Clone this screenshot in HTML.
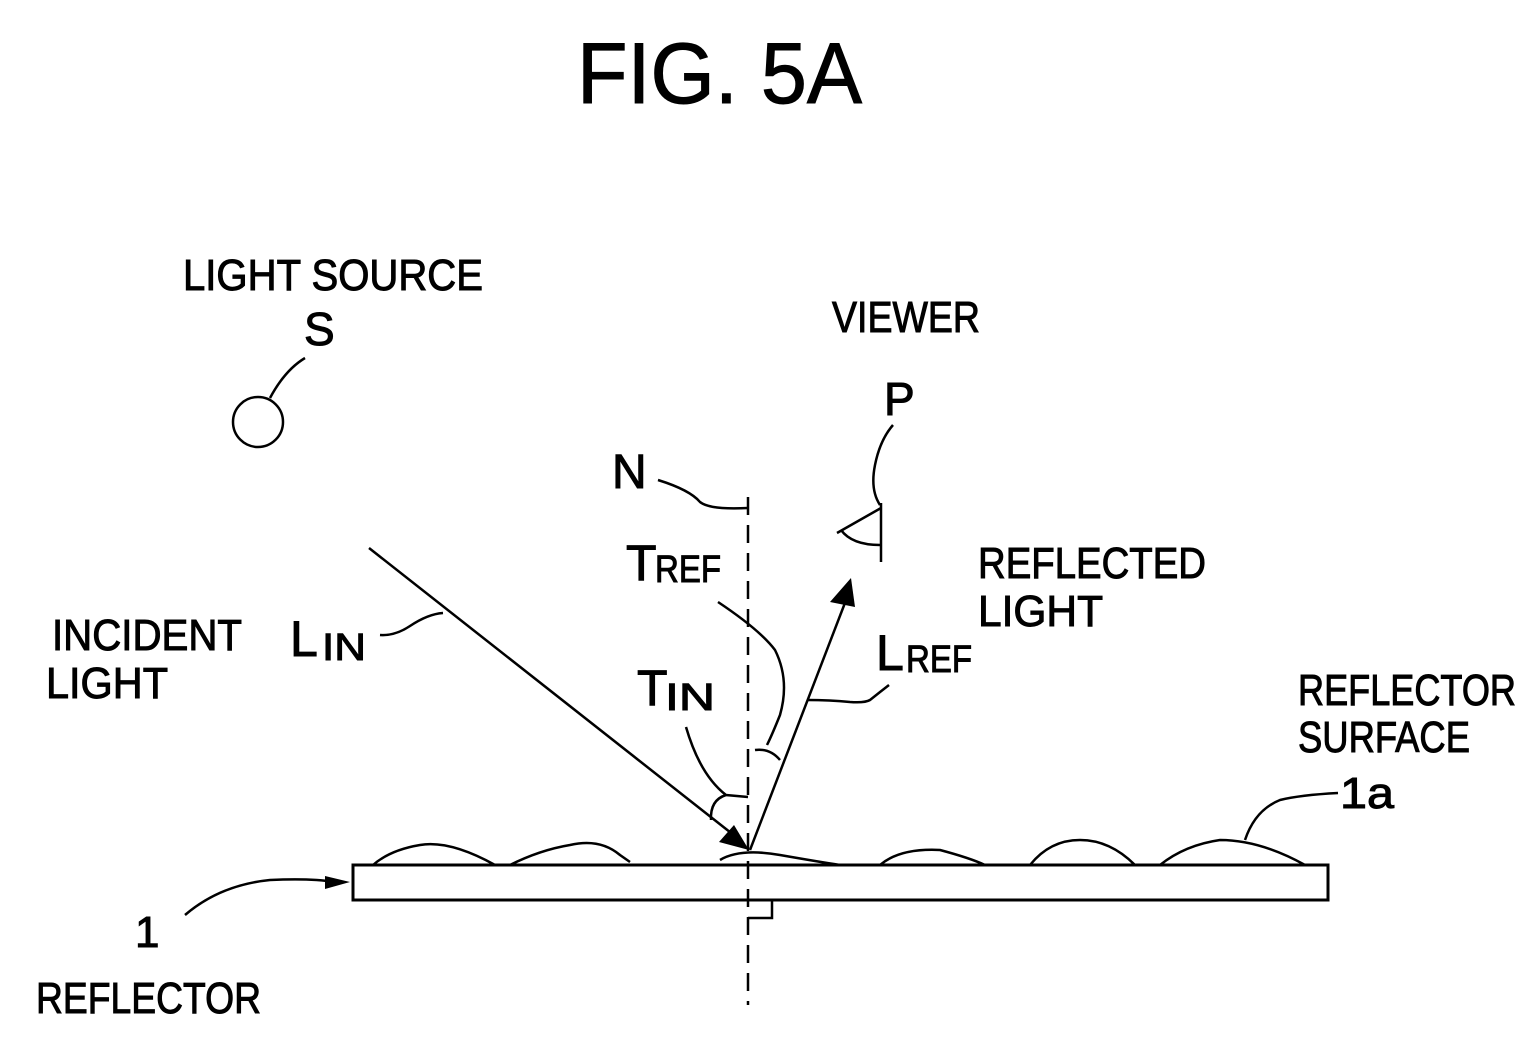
<!DOCTYPE html>
<html><head><style>body{margin:0;background:#fff}svg{display:block}</style></head>
<body>
<svg width="1536" height="1043" viewBox="0 0 1536 1043" xmlns="http://www.w3.org/2000/svg" font-family="Liberation Sans, sans-serif" fill="#000">
<rect width="1536" height="1043" fill="#fff"/>
<g stroke="#000" stroke-width="1">
<text x="577" y="103" font-size="86" textLength="285" lengthAdjust="spacingAndGlyphs">FIG. 5A</text>
<g font-size="44">
<text x="183" y="290" textLength="300" lengthAdjust="spacingAndGlyphs">LIGHT SOURCE</text>
<text x="304" y="345" font-size="46">S</text>
<text x="832" y="332" textLength="148" lengthAdjust="spacingAndGlyphs">VIEWER</text>
<text x="884" y="415" font-size="46">P</text>
<text x="612" y="488" font-size="48">N</text>
<text x="626" y="580" font-size="50">T</text><text x="655" y="582" font-size="38" textLength="66" lengthAdjust="spacingAndGlyphs">REF</text>
<text x="978" y="578" textLength="228" lengthAdjust="spacingAndGlyphs">REFLECTED</text>
<text x="978" y="626" textLength="125" lengthAdjust="spacingAndGlyphs">LIGHT</text>
<text x="52" y="650" textLength="190" lengthAdjust="spacingAndGlyphs">INCIDENT</text>
<text x="46" y="698" textLength="122" lengthAdjust="spacingAndGlyphs">LIGHT</text>
<text x="290" y="656" font-size="50">L</text><text x="322" y="660" font-size="38" textLength="44" lengthAdjust="spacingAndGlyphs">IN</text>
<text x="876" y="670" font-size="50">L</text><text x="906" y="672" font-size="38" textLength="66" lengthAdjust="spacingAndGlyphs">REF</text>
<text x="637" y="705" font-size="50">T</text><text x="665" y="710" font-size="38" textLength="50" lengthAdjust="spacingAndGlyphs">IN</text>
<text x="1298" y="705" textLength="218" lengthAdjust="spacingAndGlyphs">REFLECTOR</text>
<text x="1298" y="752" textLength="172" lengthAdjust="spacingAndGlyphs">SURFACE</text>
<text x="1340" y="808" textLength="54" lengthAdjust="spacingAndGlyphs">1a</text>
<text x="135" y="947">1</text>
<text x="36" y="1013" textLength="225" lengthAdjust="spacingAndGlyphs">REFLECTOR</text>
</g>
</g>
<g fill="none" stroke="#000" stroke-width="2.5">
<circle cx="258" cy="422" r="25"/>
<path d="M270 398 Q285 370 305 358"/>
<rect x="353" y="865" width="975" height="35" stroke-width="3"/>
<path d="M748 497 V1005" stroke-dasharray="18,10"/>
<path d="M748 900 H772 V918 H748"/>
<path d="M658 480 Q690 490 700 502 Q710 510 748 508"/>
<line x1="369" y1="548" x2="740" y2="840"/>
<path d="M380 635 Q395 636 410 626 Q428 614 443 613"/>
<line x1="750" y1="850" x2="848" y2="595"/>
<path d="M807 700 Q830 700 850 702 Q865 703 870 700 Q880 692 889 685"/>
<path d="M718 602 Q760 630 775 650 Q790 680 780 715 Q772 735 767 745"/>
<path d="M755 750 Q770 748 780 760"/>
<path d="M686 727 Q700 775 726 795 L748 797"/>
<path d="M726 795 Q710 800 711 820"/>
<path d="M837 533 L881 508 M881 503 V562 M841 530 Q852 545 880 545"/>
<path d="M880 505 Q870 490 875 465 Q880 440 893 425"/>
<path d="M185 915 Q220 885 270 880 Q310 878 335 882"/>
<path d="M1245 840 Q1255 810 1280 800 Q1300 795 1338 793"/>
<path d="M373 865 Q390 850 420 845 Q450 840 495 865 M510 865 Q540 850 570 845 Q600 838 620 855 L630 862 M720 860 Q740 848 780 855 Q820 862 840 865 M880 865 Q900 848 940 850 Q970 858 985 865 M1030 865 Q1050 840 1080 840 Q1110 840 1135 865 M1160 865 Q1185 845 1220 840 Q1260 840 1305 865"/>
</g>
<polygon points="749,850 719,842 734,825" fill="#000"/>
<polygon points="851,578 830,602 855,607" fill="#000"/>
<path d="M325 876 L350 882 L325 889 Z" fill="#000"/>
</svg>
</body></html>
